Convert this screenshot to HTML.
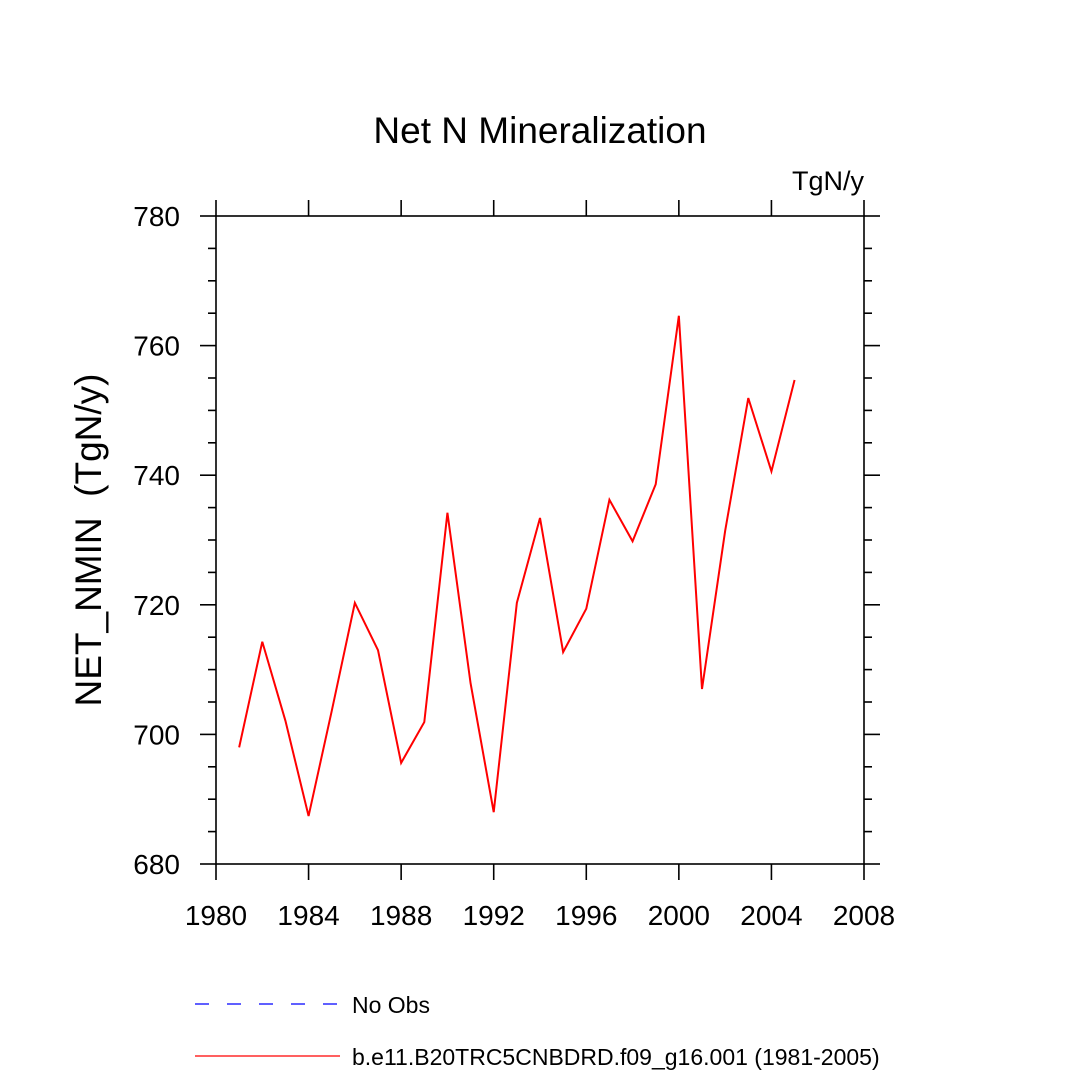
<!DOCTYPE html>
<html><head><meta charset="utf-8"><style>
body{margin:0;background:#fff;}
svg{display:block;font-family:"Liberation Sans",Arial,sans-serif;}
</style></head><body>
<svg id="chart" width="1080" height="1080" viewBox="0 0 1080 1080">
<text x="540" y="143" font-size="37" text-anchor="middle">Net N Mineralization</text>
<text x="864" y="190" font-size="27" text-anchor="end">TgN/y</text>
<text transform="translate(101,540) rotate(-90)" font-size="37" text-anchor="middle">NET_NMIN&#160;&#160;(TgN/y)</text>
<g id="axes"></g>
<g id="series"></g>
<g>
<line x1="195" y1="1004" x2="340" y2="1004" stroke="#0000ff" stroke-width="1.2" stroke-dasharray="14,18"/>
<text x="352" y="1013" font-size="23">No Obs</text>
<line x1="195" y1="1056" x2="340" y2="1056" stroke="#ff0000" stroke-width="1.2"/>
<text x="352" y="1065" font-size="23">b.e11.B20TRC5CNBDRD.f09_g16.001 (1981-2005)</text>
</g>
</svg>
<script>
const years=[1981,1982,1983,1984,1985,1986,1987,1988,1989,1990,1991,1992,1993,1994,1995,1996,1997,1998,1999,2000,2001,2002,2003,2004,2005];
const values=[698.0,714.3,702.1,687.4,703.6,720.3,713.0,695.6,701.9,734.2,707.9,688.0,720.3,733.4,712.7,719.4,736.2,729.8,738.6,764.6,707.0,731.4,751.9,740.6,754.7];
const xTicks=[1980,1984,1988,1992,1996,2000,2004,2008];
const yTicks=[680,700,720,740,760,780];
const L=216,R=864,T=216,B=864,xmin=1980,xmax=2008,ymin=680,ymax=780;
const NS='http://www.w3.org/2000/svg';
const sx=v=>L+(v-xmin)/(xmax-xmin)*(R-L);
const sy=v=>B-(v-ymin)/(ymax-ymin)*(B-T);
const axes=document.getElementById('axes');
function ln(x1,y1,x2,y2,name){const e=document.createElementNS(NS,'line');e.setAttribute('x1',x1);e.setAttribute('y1',y1);e.setAttribute('x2',x2);e.setAttribute('y2',y2);e.setAttribute('stroke','#000');e.setAttribute('stroke-width','1.6');


axes.appendChild(e);return e;}
function tx(x,y,s,anchor,name){const e=document.createElementNS(NS,'text');e.setAttribute('x',x);e.setAttribute('y',y);e.setAttribute('font-size','28');e.setAttribute('text-anchor',anchor);e.textContent=s;


axes.appendChild(e);}
const fr=document.createElementNS(NS,'rect');fr.setAttribute('x',L);fr.setAttribute('y',T);fr.setAttribute('width',R-L);fr.setAttribute('height',B-T);fr.setAttribute('fill','none');fr.setAttribute('stroke','#000');fr.setAttribute('stroke-width','1.6');


axes.appendChild(fr);
xTicks.forEach(v=>{const x=sx(v);ln(x,B,x,B+16,'x-tick');ln(x,T,x,T-16,'x-tick-top');tx(x,B+61,String(v),'middle','x-tick-label');});
yTicks.forEach(v=>{const y=sy(v);ln(L,y,L-16,y,'y-tick');ln(R,y,R+16,y,'y-tick-right');tx(L-36,y+10,String(v),'end','y-tick-label');});
for(let v=ymin;v<ymax;v+=5){if(v%20){const y=sy(v);ln(L,y,L-8,y,'y-minor-tick');ln(R,y,R+8,y,'y-minor-tick-right');}}
const p=document.createElementNS(NS,'polyline');
p.setAttribute('points',years.map((y,i)=>sx(y)+','+sy(values[i])).join(' '));
p.setAttribute('fill','none');p.setAttribute('stroke','#ff0000');p.setAttribute('stroke-width','2');


document.getElementById('series').appendChild(p);
</script>
</body></html>
